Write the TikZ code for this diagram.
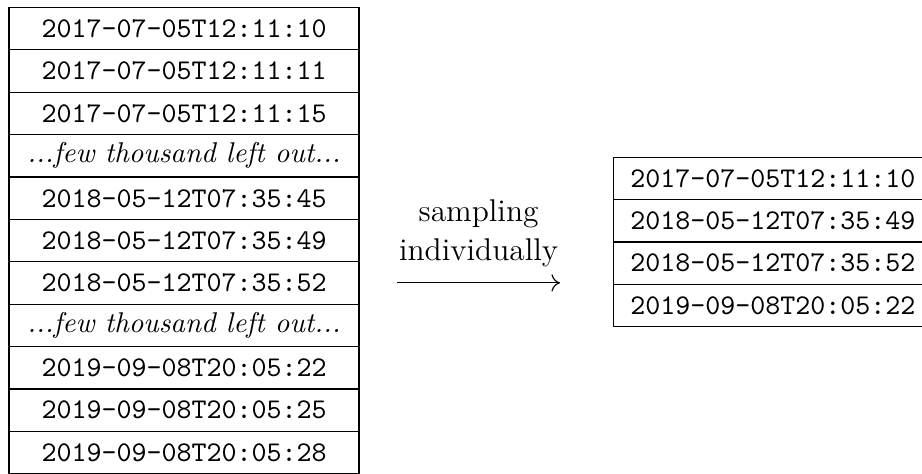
\documentclass[tikz,border=0pt]{standalone}
\usepackage{tikz}
\usetikzlibrary{positioning,calc}
\usetikzlibrary{arrows,arrows.meta}

\tikzset{cell/.style={draw, line width=0.4pt, inner sep=0pt, minimum height=14.84pt,
    font=\fontsize{10}{12}\selectfont\ttfamily}}
\tikzset{leftcell/.style={cell, minimum width=122.5pt}}
\tikzset{rightcell/.style={cell, minimum width=111.75pt}}
\newcommand{\leftout}{{\rmfamily\itshape ...few thousand left out...}}

\begin{document}
\begin{tikzpicture}[x=1pt,y=1pt]
\useasboundingbox (0,0) rectangle (322.7,-165.55);
% full list of timestamps
\foreach \t [count=\i] in {2017-07-05T12:11:10, 2017-07-05T12:11:11, 2017-07-05T12:11:15,
    \leftout, 2018-05-12T07:35:45, 2018-05-12T07:35:49, 2018-05-12T07:35:52,
    \leftout, 2019-09-08T20:05:22, 2019-09-08T20:05:25, 2019-09-08T20:05:28} {
\node[leftcell] (l\i) at (64.4,-2.6-\i*14.84+7.42) {\t};
}
% sampled timestamps
\foreach \t [count=\i] in {2017-07-05T12:11:10, 2018-05-12T07:35:49,
    2018-05-12T07:35:52, 2019-09-08T20:05:22} {
\node[rightcell] (r\i) at (270.5,-55-\i*14.84+7.42) {\t};
}
\coordinate (arrstart) at (139,-99);
\coordinate (arrend) at (196,-99);
\draw[-{Computer Modern Rightarrow[length=3pt,width=6pt]}] (arrstart) -- (arrend);
\node[above=2pt of $(arrstart)!0.5!(arrend)$, align=center,
    font=\fontsize{11}{13.6}\selectfont] (lbl) {sampling\\individually};
\end{tikzpicture}
\end{document}
